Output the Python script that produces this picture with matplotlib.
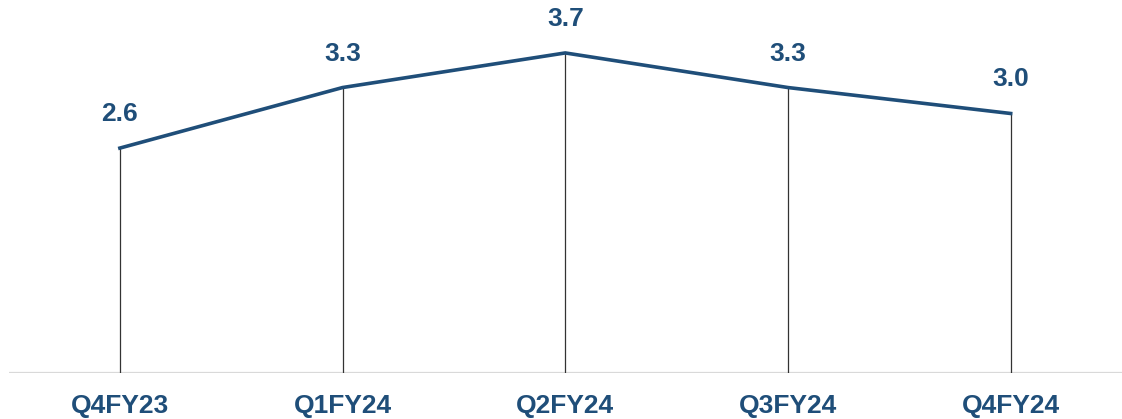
import matplotlib.pyplot as plt

plt.rcParams['font.family'] = ['Liberation Sans', 'DejaVu Sans']

quarters = ["Q4FY23", "Q1FY24", "Q2FY24", "Q3FY24", "Q4FY24"]
values = [2.6, 3.3, 3.7, 3.3, 3.0]

navy = '#1f4e79'

fig = plt.figure(figsize=(11.22, 4.19), dpi=100)
ax = fig.add_axes([0.0076, 0.1098, 0.9924, 0.8902])

x = list(range(len(quarters)))

# drop lines from each point to the baseline
ax.vlines(x, 0, values, color='#333333', linewidth=0.9, zorder=2)
ax.axhline(0, color='#d9d9d9', linewidth=1.6, zorder=1)
ax.plot(x, values, color=navy, linewidth=2.6, solid_joinstyle='miter', zorder=3)

for xi, v in zip(x, values):
    ax.annotate(f"{v:.1f}", (xi, v), xytext=(0, 24.5), textcoords='offset points',
                ha='center', va='center', fontsize=19, fontweight='bold', color=navy)

ax.set_xlim(-0.5, len(quarters) - 0.5)
ax.set_ylim(0, 4.312)
ax.set_xticks(x)
ax.set_xticklabels(quarters, fontsize=19, fontweight='bold', color=navy)
ax.tick_params(axis='x', length=0, pad=15)
ax.set_yticks([])
for s in ax.spines.values():
    s.set_visible(False)

fig.savefig('out.png', dpi=100)
